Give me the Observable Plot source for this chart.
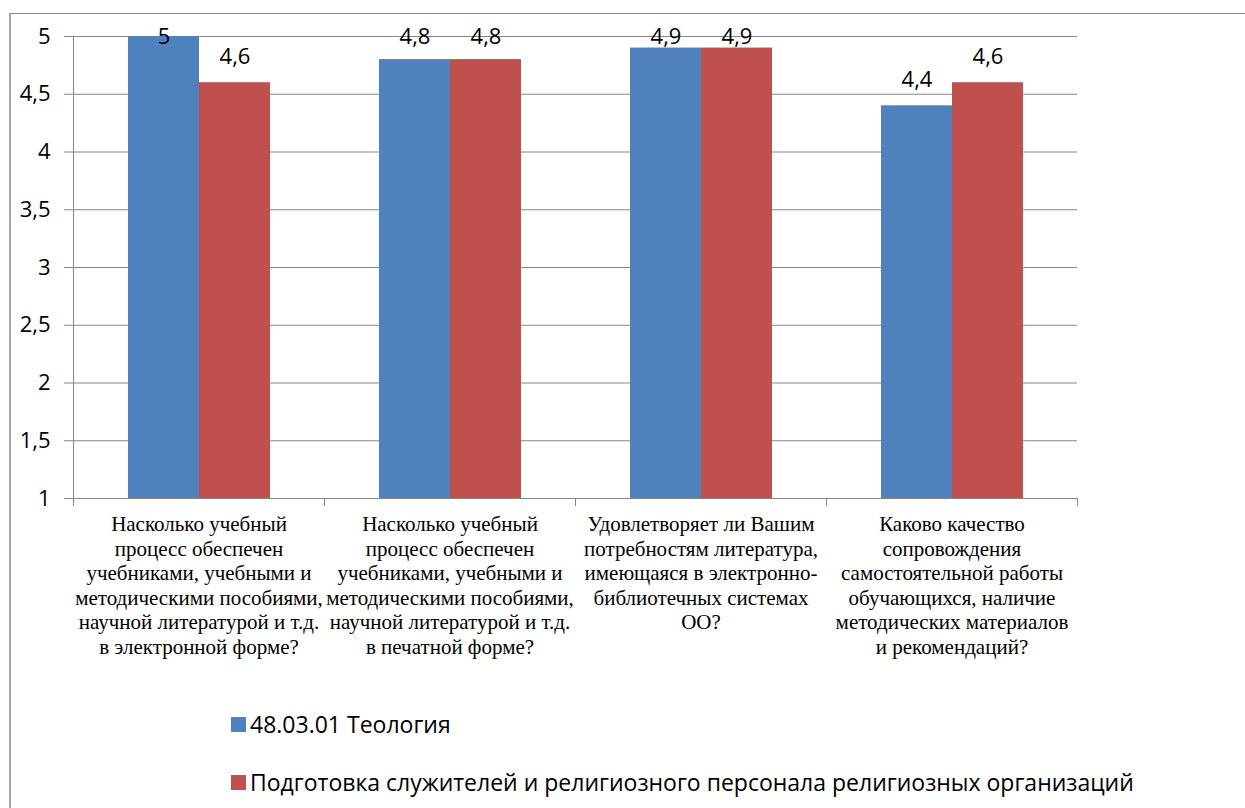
<!DOCTYPE html>
<html>
<head>
<meta charset="utf-8">
<script src="https://cdn.jsdelivr.net/npm/d3@7"></script>
<script src="https://cdn.jsdelivr.net/npm/@observablehq/plot@0.6"></script>
<style>
  html, body { margin: 0; padding: 0; background: #fff; }
  #wrap { position: relative; width: 1245px; height: 808px; overflow: hidden; }
  #border { position: absolute; left: 9px; top: 13px; width: 1300px; height: 900px;
            border-left: 2px solid #a6a6a6; border-top: 1px solid #8a8a8a; }
  #chart { position: absolute; left: 0; top: 0; }
  .legend { position: absolute; left: 231px; font-family: "Open Sans", sans-serif; font-size: 23px;
            line-height: 30px; color: #000; display: flex; align-items: center; white-space: nowrap; }
  .legend .sw { width: 15px; height: 15px; margin-right: 4px; }
</style>
</head>
<body>
<div id="wrap">
  <div id="border"></div>
  <div id="chart"></div>
  <div id="legend"></div>
</div>
<script>
const categories = [
  "Насколько учебный\nпроцесс обеспечен\nучебниками, учебными и\nметодическими пособиями,\nнаучной литературой и т.д.\nв электронной форме?",
  "Насколько учебный\nпроцесс обеспечен\nучебниками, учебными и\nметодическими пособиями,\nнаучной литературой и т.д.\nв печатной форме?",
  "Удовлетворяет ли Вашим\nпотребностям литература,\nимеющаяся в электронно-\nбиблиотечных системах\nОО?",
  "Каково качество\nсопровождения\nсамостоятельной работы\nобучающихся, наличие\nметодических материалов\nи рекомендаций?"
];
const seriesNames = [
  "48.03.01 Теология",
  "Подготовка служителей и религиозного персонала религиозных организаций"
];
const teologiaValues = [5, 4.8, 4.9, 4.4];
const podgotovkaValues = [4.6, 4.8, 4.9, 4.6];
const seriesColors = ["#4F81BD", "#C0504D"];
const yTicks = [1, 1.5, 2, 2.5, 3, 3.5, 4, 4.5, 5];
const yTickLabels = ["1", "1,5", "2", "2,5", "3", "3,5", "4", "4,5", "5"];

const data = [];
categories.forEach((c, i) => {
  data.push({category: c, series: seriesNames[0], value: teologiaValues[i]});
  data.push({category: c, series: seriesNames[1], value: podgotovkaValues[i]});
});
const fmt = v => String(v).replace(".", ",");
const yMax = d3.max(yTicks);
const gray = "#868686";

const chart = Plot.plot({
  width: 1245,
  height: 700,
  marginLeft: 72,
  marginRight: 168,
  marginTop: 36,
  marginBottom: 202,
  style: {background: "transparent", overflow: "visible"},
  fx: {domain: categories, padding: 0, label: null},
  x: {domain: seriesNames, paddingInner: 0, paddingOuter: 0.76, axis: null},
  y: {domain: [1, 5], label: null},
  color: {domain: seriesNames, range: seriesColors},
  marks: [
    Plot.gridY(yTicks, {stroke: gray, strokeOpacity: 1}),
    Plot.barY(data, {fx: "category", x: "series", y: "value", fill: "series", clip: true}),
    Plot.frame({anchor: "left", facetAnchor: "left", stroke: gray}),
    Plot.frame({anchor: "left", stroke: gray, insetTop: 462, insetBottom: -7}),
    Plot.frame({anchor: "right", facetAnchor: "right", stroke: gray, insetTop: 462, insetBottom: -7}),
    Plot.axisY({ticks: yTicks, tickFormat: (d, i) => yTickLabels[i], tickSize: 9, tickPadding: 14,
      stroke: gray, fill: "#000", fontSize: 22, fontFamily: "Open Sans", label: null}),
    Plot.axisFx({anchor: "bottom", tickSize: 0, tickPadding: 15, fontSize: 21, lineHeight: 1.17,
      fontFamily: "Liberation Serif", fill: "#000", label: null}),
    Plot.text(data, {fx: "category", x: "series", y: d => Math.min(d.value + 0.225, yMax),
      text: d => fmt(d.value), fontSize: 22, fontFamily: "Open Sans", fill: "#000"})
  ]
});
document.getElementById("chart").appendChild(chart);

const legend = document.getElementById("legend");
const legendTops = [709, 767];
seriesNames.forEach((name, i) => {
  const item = document.createElement("div");
  item.className = "legend";
  item.style.top = legendTops[i] + "px";
  const sw = document.createElement("span");
  sw.className = "sw";
  sw.style.background = seriesColors[i];
  const t = document.createElement("span");
  t.textContent = name;
  item.appendChild(sw);
  item.appendChild(t);
  legend.appendChild(item);
});
</script>
</body>
</html>
